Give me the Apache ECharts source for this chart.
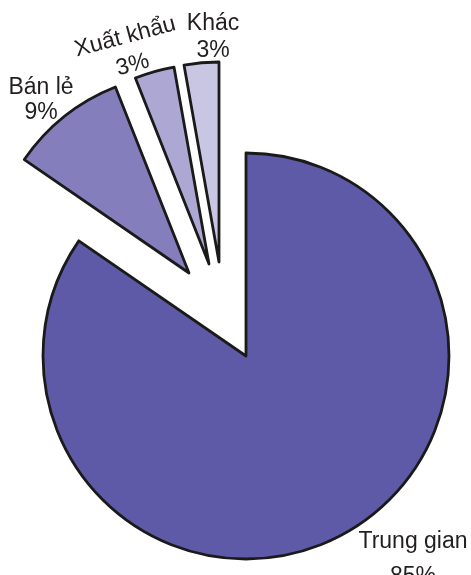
<!DOCTYPE html>
<html><head><meta charset="utf-8">
<script src="https://cdn.jsdelivr.net/npm/echarts@6/dist/echarts.min.js"></script>
<style>html,body{margin:0;padding:0;background:#fff}#c{width:471px;height:575px}</style>
</head><body><div id="c"></div>
<script>
const categories = ['Trung gian', 'Bán lẻ', 'Xuất khẩu', 'Khác'];
const shares = [84.6, 9.4, 3.2, 2.8];
const colors = ['#5e5aa8', '#847fbc', '#aca8d3', '#c9c6e3'];

const centers = [[246, 356], [189, 273], [209, 264], [219, 262]];
const radii = [203, 200, 200, 200];
const labelPos = [
  { x: 413, y: 559, rotate: 0, lh: 35 },
  { x: 41, y: 100, rotate: 0, lh: 25 },
  { x: 129, y: 51, rotate: 15, lh: 29 },
  { x: 213, y: 37, rotate: 0, lh: 27 }
];

const chart = echarts.init(document.getElementById('c'));
const series = categories.map((name, k) => ({
  type: 'pie',
  center: centers[k],
  radius: radii[k],
  startAngle: 90,
  clockwise: true,
  animation: false,
  silent: true,
  avoidLabelOverlap: false,
  labelLine: { show: false },
  label: { show: false },
  labelLayout: () => ({
    x: labelPos[k].x, y: labelPos[k].y, rotate: labelPos[k].rotate,
    align: 'center', verticalAlign: 'middle'
  }),
  data: categories.map((c, i) => ({
    name: c,
    value: shares[i],
    itemStyle: i === k
      ? { color: colors[i], borderColor: '#1a1a1a', borderWidth: 2.8 }
      : { color: 'rgba(0,0,0,0)', borderWidth: 0 },
    label: i === k
      ? {
          show: true, position: 'outside',
          formatter: p => p.name + '\n' + Math.round(p.percent) + '%',
          fontFamily: 'Liberation Sans, Arial, sans-serif',
          fontSize: 23, lineHeight: labelPos[k].lh, color: '#231f20'
        }
      : { show: false }
  }))
}));
chart.setOption({ animation: false, series: series });
</script>
</body></html>
